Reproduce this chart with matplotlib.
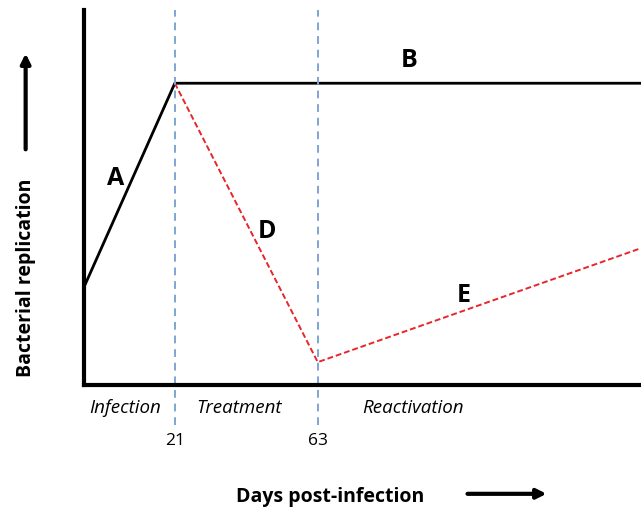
import matplotlib.pyplot as plt

plt.rcParams['font.family'] = ['Open Sans', 'DejaVu Sans']

# schematic curves (x in days, y in arbitrary replication units)
days_AB = [-5.7, 21, 158]
vals_AB = [26.1, 80.5, 80.5]
days_DE = [21, 63, 158]
vals_DE = [80.5, 6.1, 36.5]
phase_days = [21, 63]
phase_names = ["Infection", "Treatment", "Reactivation"]
phase_x = [6.3, 40, 91]
seg_labels = ["A", "B", "D", "E"]
seg_x = [3.5, 90, 48, 106]
seg_y = [55, 86.5, 41, 24]

fig = plt.figure(figsize=(6.41, 5.07), dpi=100)
ax = fig.add_axes([0.131, 0.2406, 0.869, 0.7394])

ax.plot(days_AB, vals_AB, color='black', lw=2)
ax.plot(days_DE, vals_DE, color='#e8252a', lw=1.4, ls=(0, (3, 1.5)))
for d in phase_days:
    ax.axvline(d, ymin=-0.107, ymax=1.0, color='#7ea6d4', lw=1.4,
               ls=(0, (4, 3)), clip_on=False)

for lab, x, y in zip(seg_labels, seg_x, seg_y):
    ax.text(x, y, lab, fontsize=18, fontweight='bold', ha='center', va='center')

for name, x in zip(phase_names, phase_x):
    ax.text(x, -6.2, name, fontsize=13.5, style='italic', ha='center', va='center')
for d in phase_days:
    ax.text(d, -15, str(d), fontsize=12.5, ha='center', va='center')

ax.set_xlim(-5.7, 158)
ax.set_ylim(0, 100)
ax.set_xticks([])
ax.set_yticks([])
ax.spines['top'].set_visible(False)
ax.spines['right'].set_visible(False)
ax.spines['left'].set_linewidth(3)
ax.spines['bottom'].set_linewidth(3)

fig.text(0.515, 0.019, "Days post-infection", fontsize=14, fontweight='bold',
         ha='center', va='center')
fig.add_artist(plt.Annotation('', xy=(0.857, 0.026), xytext=(0.725, 0.026),
                              xycoords='figure fraction',
                              arrowprops=dict(arrowstyle='-|>', lw=3, color='black',
                                              mutation_scale=14)))
fig.text(0.04, 0.453, "Bacterial replication", fontsize=14, fontweight='bold',
         rotation=90, ha='center', va='center')
fig.add_artist(plt.Annotation('', xy=(0.04, 0.90), xytext=(0.04, 0.70),
                              xycoords='figure fraction',
                              arrowprops=dict(arrowstyle='-|>', lw=3, color='black',
                                              mutation_scale=14)))

fig.savefig('out.png', dpi=100)
